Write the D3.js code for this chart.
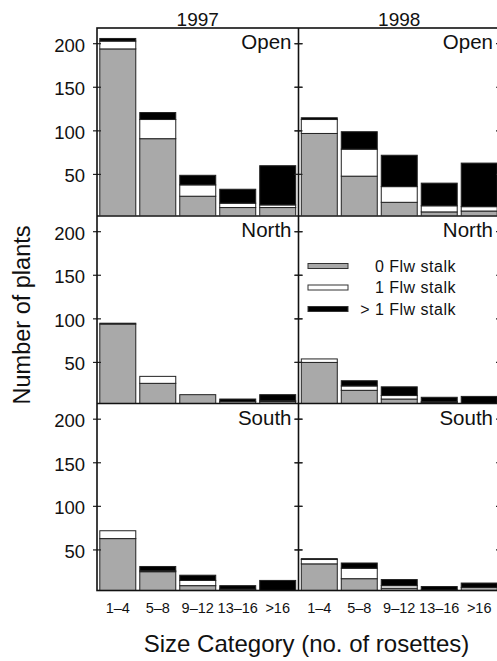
<!DOCTYPE html>
<html><head><meta charset="utf-8">
<script src="https://cdn.jsdelivr.net/npm/d3@7"></script>
<style>
html,body{margin:0;padding:0;background:#fff;}
svg{display:block;font-family:"Liberation Sans",Arial,Helvetica,sans-serif;}
</style></head>
<body>
<script>
const years = ["1997", "1998"];
const sites = ["Open", "North", "South"];
const categories = ["1–4", "5–8", "9–12", "13–16", ">16"];
const stalkClasses = ["0 Flw stalk", "1 Flw stalk", "> 1 Flw stalk"];
const yTicks = [50, 100, 150, 200];

// values per panel: 0 flowering stalks, 1 stalk, >1 stalk
const open1997Zero = [194, 91, 25, 12, 12];
const open1997One  = [9, 22, 13, 5, 3];
const open1997More = [3, 8, 11, 16, 45];
const open1998Zero = [97, 48, 18, 7, 8];
const open1998One  = [16, 31, 18, 7, 5];
const open1998More = [2, 20, 36, 26, 50];
const north1997Zero = [94, 26, 13, 5, 5];
const north1997One  = [1, 8, 0, 0, 1];
const north1997More = [0, 0, 0, 3, 7];
const north1998Zero = [50, 18, 8, 4, 1];
const north1998One  = [4, 5, 4, 1, 1];
const north1998More = [0, 6, 10, 5, 9];
const south1997Zero = [63, 25, 9, 5, 0];
const south1997One  = [9, 1, 6, 0, 0];
const south1997More = [0, 5, 6, 4, 15];
const south1998Zero = [34, 17, 6, 3, 7];
const south1998One  = [5, 12, 3, 1, 0];
const south1998More = [1, 6, 7, 4, 5];

const panelData = {
  "Open-1997": [open1997Zero, open1997One, open1997More],
  "Open-1998": [open1998Zero, open1998One, open1998More],
  "North-1997": [north1997Zero, north1997One, north1997More],
  "North-1998": [north1998Zero, north1998One, north1998More],
  "South-1997": [south1997Zero, south1997One, south1997More],
  "South-1998": [south1998Zero, south1998One, south1998More]
};

const W = 497, H = 661;
const colLefts = [97, 298.5];
const colW = 201.5;
const rowTops = [28, 216, 403.5];
const rowH = 187.5;
const fills = ["#a9a9a9", "#ffffff", "#000000"];

const svg = d3.select("body").append("svg").attr("width", W).attr("height", H);
const defs = svg.append("defs");

years.forEach((yr, c) => {
  const x0 = colLefts[c];
  const x = d3.scaleBand().domain(categories).range([x0, x0 + colW]).paddingInner(0.1).paddingOuter(0.07);
  sites.forEach((site, r) => {
    const top = rowTops[r], bottom = top + rowH;
    const y = d3.scaleLinear().domain([0, 218]).range([bottom + 2.5, top]);
    const id = "clip-" + site + yr;
    defs.append("clipPath").attr("id", id).append("rect")
      .attr("x", x0).attr("y", top).attr("width", colW).attr("height", rowH);
    const g = svg.append("g").attr("clip-path", "url(#" + id + ")");
    const series = panelData[site + "-" + yr];
    const stacked = d3.stack().keys([0, 1, 2])(categories.map((cat, i) => ({0: series[0][i], 1: series[1][i], 2: series[2][i], cat})));
    stacked.forEach((layer, k) => {
      g.selectAll(null).data(layer.filter(d => d[1] > d[0])).enter().append("rect")
        .attr("x", d => x(d.data.cat))
        .attr("width", x.bandwidth())
        .attr("y", d => y(d[1]))
        .attr("height", d => y(d[0]) - y(d[1]))
        .attr("fill", fills[k])
        .attr("stroke", "#222")
        .attr("stroke-width", 1);
    });
    // site label
    svg.append("text").attr("x", x0 + colW - 7).attr("y", top + 21)
      .attr("text-anchor", "end").attr("font-size", 20.5).attr("fill", "#111").text(site);
    // y axis tick labels on left column
    if (c === 0) {
      svg.selectAll(null).data(yTicks).enter().append("text")
        .attr("x", 85).attr("y", d => y(d) + 8)
        .attr("text-anchor", "end").attr("font-size", 18.5).attr("fill", "#111").text(d => d);
    }
    // ticks on the vertical lines
    [x0, x0 + colW].forEach(vx => {
      svg.selectAll(null).data(yTicks).enter().append("line")
        .attr("x1", vx - 4).attr("x2", vx + 4)
        .attr("y1", d => y(d)).attr("y2", d => y(d))
        .attr("stroke", "#222").attr("stroke-width", 1.2);
    });
    // x category labels at bottom row
    if (r === 2) {
      svg.selectAll(null).data(categories).enter().append("text")
        .attr("x", d => x(d) + x.bandwidth() / 2).attr("y", 612.5)
        .attr("text-anchor", "middle").attr("font-size", 14.5).attr("fill", "#111").text(d => d);
    }
  });
  svg.append("text").attr("x", x0 + colW / 2).attr("y", 26)
    .attr("text-anchor", "middle").attr("font-size", 19).attr("fill", "#111").text(yr);
});

// frame lines
const frame = svg.append("g").attr("stroke", "#111").attr("stroke-width", 1.6).attr("fill", "none");
frame.append("rect").attr("x", colLefts[0]).attr("y", rowTops[0]).attr("width", colW * 2).attr("height", rowH * 3);
frame.append("line").attr("x1", colLefts[1]).attr("x2", colLefts[1]).attr("y1", rowTops[0]).attr("y2", rowTops[0] + rowH * 3);
[1, 2].forEach(r => frame.append("line").attr("x1", colLefts[0]).attr("x2", colLefts[1] + colW)
  .attr("y1", rowTops[r]).attr("y2", rowTops[r]));

// legend in North 1998 panel
const lg = svg.append("g");
stalkClasses.forEach((lab, i) => {
  const cy = 266 + i * 21.5;
  lg.append("rect").attr("x", 308).attr("y", cy - 2.5).attr("width", 40).attr("height", 5)
    .attr("fill", fills[i]).attr("stroke", "#333").attr("stroke-width", 1);
  lg.append("text").attr("x", 456).attr("y", cy + 5.5).attr("text-anchor", "end")
    .attr("font-size", 16).attr("letter-spacing", 0.5).attr("fill", "#111").text(lab);
});

// axis titles
svg.append("text").attr("x", 306.5).attr("y", 652).attr("text-anchor", "middle")
  .attr("font-size", 24).attr("fill", "#111").text("Size Category (no. of rosettes)");
svg.append("text").attr("transform", "translate(30,315) rotate(-90)").attr("text-anchor", "middle")
  .attr("font-size", 23.5).attr("fill", "#111").text("Number of plants");
</script>
</body></html>
